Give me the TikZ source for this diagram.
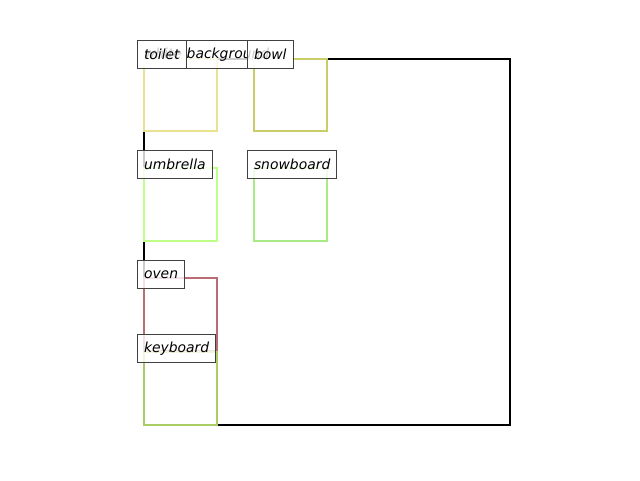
\documentclass[tikz,border=0pt]{standalone}
\usepackage{fontspec}
\newfontfamily\labfont{DejaVu Sans}
\definecolor{toiletc}{RGB}{232,226,145}
\definecolor{bowlc}{RGB}{200,204,105}
\definecolor{umbrellac}{RGB}{192,255,135}
\definecolor{snowc}{RGB}{168,235,135}
\definecolor{ovenc}{RGB}{185,108,115}
\definecolor{keyc}{RGB}{170,205,100}
\definecolor{lblborder}{RGB}{64,64,64}
\begin{document}
\begin{tikzpicture}[x=1pt,y=-1pt,
  objbox/.style={line width=2pt},
  lbl/.style={draw=lblborder, line width=1pt, fill=white, fill opacity=0.8, text opacity=1,
    anchor=north west, minimum height=28pt, inner xsep=6.5pt, inner ysep=0pt,
    font=\labfont\itshape\fontsize{13.9}{16}\selectfont}]
\useasboundingbox (0,0) rectangle (640,480);
% whole image box
\draw[line width=2pt, black] (144,59) rectangle (510,425);
% object boxes
\draw[objbox, toiletc] (144,59) rectangle (217,131);
\draw[objbox, bowlc] (254,59) rectangle (327,131);
\draw[objbox, umbrellac] (144,168) rectangle (217,241);
\draw[objbox, snowc] (254,168) rectangle (327,241);
\draw[objbox, ovenc] (144,278) rectangle (217,351);
\draw[objbox, keyc] (144,352) rectangle (217,425);
% labels
\node[lbl, text width=143pt, align=left] (wb) at (137,40) {white background};
\node[lbl] (toilet) at (137,40) {toilet};
\node[lbl] (bowl) at (247,40) {bowl};
\node[lbl] (umbrella) at (137,150) {umbrella};
\node[lbl] (snowboard) at (247,150) {snowboard};
\node[lbl] (oven) at (137,260) {oven};
\node[lbl] (keyboard) at (137,334) {keyboard};
\end{tikzpicture}
\end{document}
